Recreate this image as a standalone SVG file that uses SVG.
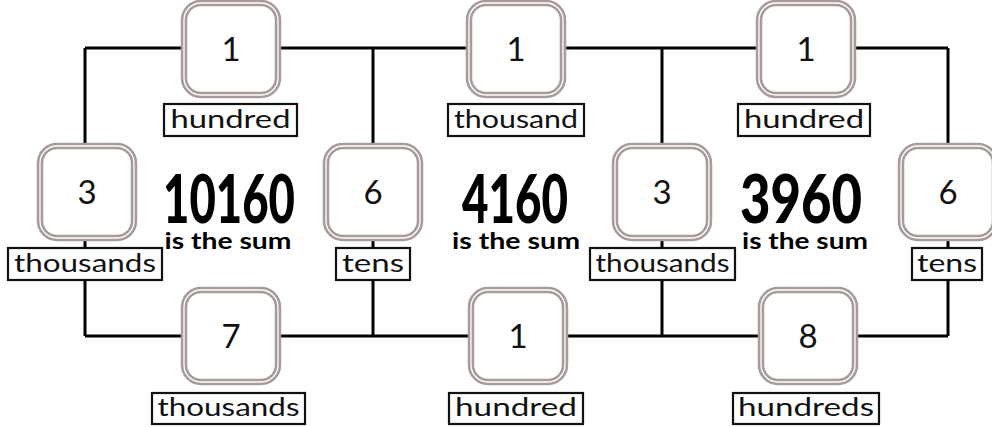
<svg xmlns="http://www.w3.org/2000/svg" width="992" height="427" viewBox="0 0 992 427">
<style>
.bo{fill:#fff;stroke:#a89c9a;stroke-width:6.5}
.bi{fill:none;stroke:#fff;stroke-width:1.3}
.d{font-family:Lato,"Liberation Sans",sans-serif;font-size:33px;text-anchor:middle;fill:#111}
.lb{fill:#fff;stroke:#111;stroke-width:2.2}
.lt{font-family:Lato,"Liberation Sans",sans-serif;font-size:25px;text-anchor:middle;fill:#111}
.big{font-family:Lato,"Liberation Sans",sans-serif;font-weight:900;font-size:66px;text-anchor:middle;fill:#000}
.sum{font-family:Lato,"Liberation Sans",sans-serif;font-weight:bold;font-size:23px;text-anchor:middle;fill:#000}
.ln{stroke:#000;stroke-width:3;fill:none}
</style>
<defs>
<g id="box"><rect class="bo" x="-47" y="-46" width="94" height="92" rx="17"/><rect class="bi" x="-47" y="-46" width="94" height="92" rx="17"/></g>
</defs>
<g id="connectors">
<path class="ln" d="M85 48H948M85 336H948M85 48V145M85 240V336M373 48V145M373 240V336M662 48V145M662 240V336M948 48V145M948 240V336"/>
</g>
<g id="n-top1"><use href="#box" x="231" y="49"/><text class="d" x="231" y="61">1</text></g>
<g id="l-top1"><rect class="lb" x="164" y="104" width="133" height="32"/><text class="lt" x="230.5" y="128" textLength="120" lengthAdjust="spacingAndGlyphs">hundred</text></g>
<g id="n-top2"><use href="#box" x="516" y="49"/><text class="d" x="516" y="61">1</text></g>
<g id="l-top2"><rect class="lb" x="448" y="104" width="136" height="32"/><text class="lt" x="516" y="128" textLength="124" lengthAdjust="spacingAndGlyphs">thousand</text></g>
<g id="n-top3"><use href="#box" x="806" y="49"/><text class="d" x="806" y="61">1</text></g>
<g id="l-top3"><rect class="lb" x="738" y="104" width="132" height="32"/><text class="lt" x="804" y="128" textLength="120" lengthAdjust="spacingAndGlyphs">hundred</text></g>
<g id="n-mid1"><use href="#box" x="87" y="192"/><text class="d" x="87" y="204">3</text></g>
<g id="l-mid1"><rect class="lb" x="8" y="248" width="154" height="32"/><text class="lt" x="85" y="272" textLength="142" lengthAdjust="spacingAndGlyphs">thousands</text></g>
<g id="n-mid2"><use href="#box" x="373" y="192"/><text class="d" x="373" y="204">6</text></g>
<g id="l-mid2"><rect class="lb" x="336" y="248" width="74" height="32"/><text class="lt" x="373" y="272" textLength="62" lengthAdjust="spacingAndGlyphs">tens</text></g>
<g id="n-mid3"><use href="#box" x="662" y="192"/><text class="d" x="662" y="204">3</text></g>
<g id="l-mid3"><rect class="lb" x="590" y="248" width="145" height="32"/><text class="lt" x="662.5" y="272" textLength="134" lengthAdjust="spacingAndGlyphs">thousands</text></g>
<g id="n-mid4"><use href="#box" x="948" y="192"/><text class="d" x="948" y="204">6</text></g>
<g id="l-mid4"><rect class="lb" x="912" y="248" width="70" height="32"/><text class="lt" x="947" y="272" textLength="60" lengthAdjust="spacingAndGlyphs">tens</text></g>
<g id="n-bot1"><use href="#box" x="231" y="336"/><text class="d" x="231" y="348">7</text></g>
<g id="l-bot1"><rect class="lb" x="152" y="393" width="153" height="31"/><text class="lt" x="228.5" y="416" textLength="142" lengthAdjust="spacingAndGlyphs">thousands</text></g>
<g id="n-bot2"><use href="#box" x="518" y="336"/><text class="d" x="518" y="348">1</text></g>
<g id="l-bot2"><rect class="lb" x="449" y="393" width="134" height="31"/><text class="lt" x="516" y="416" textLength="122" lengthAdjust="spacingAndGlyphs">hundred</text></g>
<g id="n-bot3"><use href="#box" x="808" y="336"/><text class="d" x="808" y="348">8</text></g>
<g id="l-bot3"><rect class="lb" x="733" y="393" width="146" height="31"/><text class="lt" x="806" y="416" textLength="136" lengthAdjust="spacingAndGlyphs">hundreds</text></g>
<g id="sum1"><text class="big" x="229" y="223" textLength="132" lengthAdjust="spacingAndGlyphs">10160</text><text class="sum" x="228" y="249" textLength="127" lengthAdjust="spacingAndGlyphs">is the sum</text></g>
<g id="sum2"><text class="big" x="515" y="223" textLength="106" lengthAdjust="spacingAndGlyphs">4160</text><text class="sum" x="516" y="249" textLength="128" lengthAdjust="spacingAndGlyphs">is the sum</text></g>
<g id="sum3"><text class="big" x="801" y="223" textLength="122" lengthAdjust="spacingAndGlyphs">3960</text><text class="sum" x="805" y="249" textLength="126" lengthAdjust="spacingAndGlyphs">is the sum</text></g>
</svg>
